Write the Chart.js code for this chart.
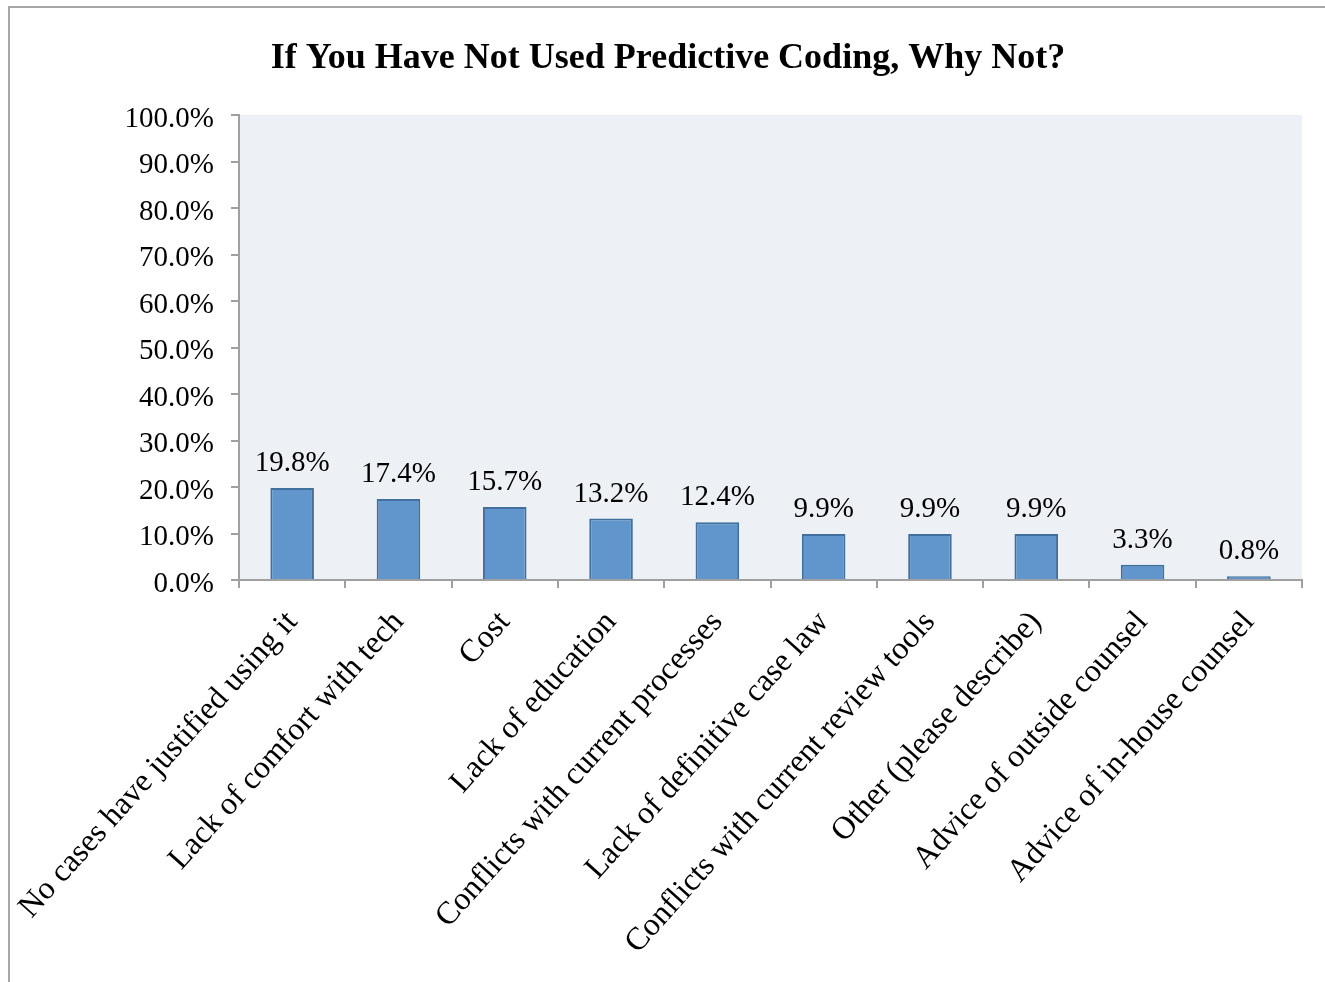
<!DOCTYPE html>
<html>
<head>
<meta charset="utf-8">
<script src="https://cdn.jsdelivr.net/npm/chart.js@4"></script>
<style>
  html, body { margin: 0; padding: 0; background: #fff; overflow: hidden; }
  #wrap { position: relative; width: 1325px; height: 982px; }
  #frame { position: absolute; left: 8px; top: 6px; width: 1400px; height: 1100px; border: 2px solid #a6a6a6; box-sizing: border-box; }
  canvas { position: absolute; left: 0; top: 0; }
</style>
</head>
<body>
<div id="wrap">
  <div id="frame"></div>
  <canvas id="c" width="1325" height="982"></canvas>
</div>
<script>
const titleText = 'If You Have Not Used Predictive Coding, Why Not?';
const categories = [
  'No cases have justified using it',
  'Lack of comfort with tech',
  'Cost',
  'Lack of education',
  'Conflicts with current processes',
  'Lack of definitive case law',
  'Conflicts with current review tools',
  'Other (please describe)',
  'Advice of outside counsel',
  'Advice of in-house counsel'
];
const shares = [19.8, 17.4, 15.7, 13.2, 12.4, 9.9, 9.9, 9.9, 3.3, 0.8];
const yTicks = [0, 10, 20, 30, 40, 50, 60, 70, 80, 90, 100];

const serif = '"Liberation Serif", "DejaVu Serif", serif';
const axisGray = '#a0a0a0';

// light panel behind the plotting area
const panelFill = {
  id: 'panelFill',
  beforeDraw(chart) {
    const { ctx, chartArea: a } = chart;
    ctx.save();
    ctx.fillStyle = '#edf0f5';
    ctx.fillRect(a.left, a.top, a.right - a.left, a.bottom - a.top);
    ctx.restore();
  }
};

// chart heading, centred over the plot
const heading = {
  id: 'heading',
  afterDraw(chart) {
    const { ctx } = chart;
    ctx.save();
    ctx.font = 'bold 36px ' + serif;
    ctx.fillStyle = '#000';
    ctx.textAlign = 'center';
    ctx.textBaseline = 'middle';
    ctx.fillText(titleText, 668, 59);
    ctx.restore();
  }
};

// percentage label above each bar
const barLabels = {
  id: 'barLabels',
  afterDatasetsDraw(chart) {
    const { ctx } = chart;
    const meta = chart.getDatasetMeta(0);
    ctx.save();
    ctx.font = '29px ' + serif;
    ctx.fillStyle = '#000';
    ctx.textAlign = 'center';
    ctx.textBaseline = 'alphabetic';
    meta.data.forEach((bar, i) => {
      ctx.fillText(shares[i].toFixed(1) + '%', bar.x, bar.y - 17);
    });
    ctx.restore();
  }
};

// value axis labels, drawn at each tick position
const yLabels = {
  id: 'yLabels',
  afterDraw(chart) {
    const { ctx } = chart;
    const y = chart.scales.y;
    ctx.save();
    ctx.font = '29px ' + serif;
    ctx.fillStyle = '#000';
    ctx.textAlign = 'right';
    ctx.textBaseline = 'middle';
    yTicks.forEach(v => {
      ctx.fillText(v.toFixed(1) + '%', y.right - 25, y.getPixelForValue(v) + 4);
    });
    ctx.restore();
  }
};

new Chart(document.getElementById('c'), {
  type: 'bar',
  data: {
    labels: categories,
    datasets: [{
      data: shares,
      backgroundColor: '#6096cb',
      borderColor: '#41709f',
      borderWidth: 2,
      barPercentage: 0.41,
      categoryPercentage: 1.0
    }]
  },
  options: {
    responsive: false,
    animation: false,
    layout: { padding: { left: 10, right: 23, top: 115, bottom: 10 } },
    plugins: {
      legend: { display: false },
      tooltip: { enabled: false },
      title: { display: false }
    },
    scales: {
      y: {
        min: 0,
        max: 100,
        afterFit(scale) { scale.width = 229; },
        afterBuildTicks(scale) { scale.ticks = yTicks.map(v => ({ value: v })); },
        ticks: { display: false },
        grid: { drawOnChartArea: false, drawTicks: true, tickLength: 8, color: axisGray, lineWidth: 2 },
        border: { display: true, color: axisGray, width: 2 }
      },
      x: {
        afterFit(scale) {
          scale.height = 392;
          scale.paddingLeft = 0;
          scale.paddingRight = 0;
        },
        ticks: {
          color: '#000',
          font: { family: serif, size: 32 },
          minRotation: 48,
          maxRotation: 48,
          autoSkip: false,
          padding: 16
        },
        grid: { drawOnChartArea: false, drawTicks: true, tickLength: 8, color: axisGray, lineWidth: 2, offset: true },
        border: { display: true, color: axisGray, width: 2 }
      }
    }
  },
  plugins: [panelFill, barLabels, heading, yLabels]
});
</script>
</body>
</html>
